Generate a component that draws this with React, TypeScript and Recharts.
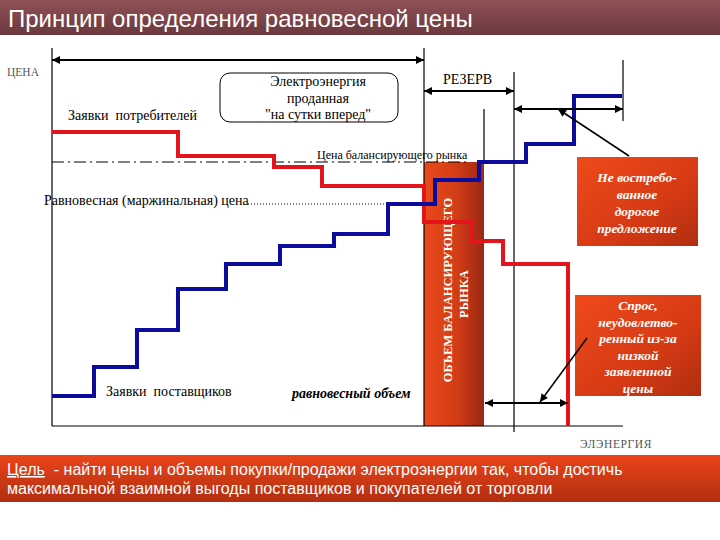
import React from "react";
import {
  ComposedChart,
  Line,
  XAxis,
  YAxis,
  ReferenceArea,
  ReferenceLine,
} from "recharts";

// volume (x) and price (y), origin at the corner of the axes
const supplyVolume = [0, 42, 85, 126, 174, 228, 282, 336, 383, 427, 474, 522, 570];
const supplyPrice = [30, 59, 96, 137, 162, 180, 192, 222, 246, 264, 282, 330, 330];
const demandVolume = [0, 126, 222, 270, 372, 420, 451, 516];
const demandPrice = [294, 270, 259, 240, 204, 185, 162, 0];

const dayAheadVolume = 372;
const balancingVolume = 432;
const reserveVolume = 462;
const maxVolume = 571;
const balancingPrice = 264;
const equilibriumPrice = 222;

const supply = supplyVolume.map((v, i) => ({ v, p: supplyPrice[i] }));
const demand = demandVolume.map((v, i) => ({ v, p: demandPrice[i] }));

const SERIF = '"Liberation Serif", "Times New Roman", serif';
const SANS = '"Liberation Sans", Arial, sans-serif';

const W = 720;
const H = 540;
const MARGIN = { top: 40, right: 0, bottom: 104, left: 52 };

const arrow =
  (start: boolean, end: boolean, w: number) =>
  (p: any) => (
    <line
      x1={p.x1}
      y1={p.y1}
      x2={p.x2}
      y2={p.y2}
      stroke="#000"
      strokeWidth={w}
      markerStart={start ? "url(#ah)" : undefined}
      markerEnd={end ? "url(#ah)" : undefined}
    />
  );

const roundedBox = (p: any) => (
  <rect
    x={p.x}
    y={p.y}
    width={p.width}
    height={p.height}
    rx={10}
    fill="#fff"
    stroke="#000"
    strokeWidth={1}
  />
);

const thin = { stroke: "#000", strokeWidth: 1.2, ifOverflow: "visible" as const };
const layer = { position: "absolute" as const, left: 0, top: 0 };

function Axes() {
  return (
    <>
      <XAxis type="number" dataKey="v" domain={[0, 668]} hide allowDataOverflow />
      <YAxis type="number" domain={[-10, 386]} hide allowDataOverflow />
    </>
  );
}

export default function App() {
  return (
    <div
      style={{
        position: "absolute",
        left: 0,
        top: 0,
        width: W,
        height: H,
        background: "#fff",
        overflow: "hidden",
      }}
    >
      <svg width={0} height={0} style={{ position: "absolute" }}>
        <defs>
          <marker
            id="ah"
            viewBox="0 0 10 10"
            refX={10}
            refY={5}
            markerWidth={9}
            markerHeight={8}
            markerUnits="userSpaceOnUse"
            orient="auto-start-reverse"
          >
            <path d="M0,0 L10,5 L0,10 z" fill="#000" />
          </marker>
          <linearGradient id="balGrad" x1="0" y1="0" x2="1" y2="0">
            <stop offset="0%" stopColor="#ea4a1c" />
            <stop offset="55%" stopColor="#d23c16" />
            <stop offset="100%" stopColor="#9a2814" />
          </linearGradient>
          <linearGradient id="noteGrad" x1="0" y1="0" x2="1" y2="1">
            <stop offset="0%" stopColor="#ef4a1c" />
            <stop offset="60%" stopColor="#d63a14" />
            <stop offset="100%" stopColor="#b02e10" />
          </linearGradient>
        </defs>
      </svg>

      {/* background layer: boxes under the curves */}
      <div style={layer}>
        <ComposedChart width={W} height={H} margin={MARGIN}>
          {Axes()}
          <ReferenceArea
            x1={dayAheadVolume}
            x2={balancingVolume}
            y1={0}
            y2={balancingPrice}
            fill="url(#balGrad)"
            fillOpacity={1}
            ifOverflow="visible"
          />
          <ReferenceArea x1={525} x2={646} y1={180} y2={269} fill="url(#noteGrad)" fillOpacity={1} ifOverflow="visible" />
          <ReferenceArea x1={523} x2={649} y1={30} y2={131} fill="url(#noteGrad)" fillOpacity={1} ifOverflow="visible" />
          <ReferenceArea x1={168} x2={346} y1={304} y2={353} shape={roundedBox} ifOverflow="visible" />
        </ComposedChart>
      </div>

      <svg width={W} height={H} style={{ ...layer, pointerEvents: "none" }}>
        <g fontFamily={SERIF} fill="#fff" fontWeight="bold" fontSize={12.5} textAnchor="middle">
          <text x={452} y={290} transform="rotate(-90 452 290)">ОБЪЕМ БАЛАНСИРУЮЩЕГО</text>
          <text x={468} y={294} transform="rotate(-90 468 294)">РЫНКА</text>
        </g>
      </svg>

      <div style={layer}>
        <ComposedChart width={W} height={H} margin={MARGIN}>
          {Axes()}
          {/* axes and guide lines */}
          <ReferenceLine segment={[{ x: 0, y: 0 }, { x: 0, y: 378 }]} {...thin} />
          <ReferenceLine segment={[{ x: 0, y: 0 }, { x: maxVolume, y: 0 }]} {...thin} />
          <ReferenceLine segment={[{ x: dayAheadVolume, y: 0 }, { x: dayAheadVolume, y: 378 }]} {...thin} />
          <ReferenceLine segment={[{ x: balancingVolume, y: balancingPrice }, { x: balancingVolume, y: 317 }]} {...thin} />
          <ReferenceLine segment={[{ x: reserveVolume, y: -6 }, { x: reserveVolume, y: 354 }]} {...thin} />
          <ReferenceLine segment={[{ x: maxVolume, y: 305 }, { x: maxVolume, y: 366 }]} {...thin} />
          <ReferenceLine
            segment={[{ x: 0, y: balancingPrice }, { x: 418, y: balancingPrice }]}
            stroke="#000"
            strokeWidth={1}
            strokeDasharray="12 4 2 4"
            ifOverflow="visible"
          />
          <ReferenceLine
            segment={[{ x: 196, y: equilibriumPrice }, { x: dayAheadVolume, y: equilibriumPrice }]}
            stroke="#000"
            strokeWidth={1}
            strokeDasharray="1 2"
            ifOverflow="visible"
          />

          <Line
            data={demand}
            dataKey="p"
            type="stepAfter"
            stroke="#e3141c"
            strokeWidth={4}
            dot={false}
            isAnimationActive={false}
          />
          <Line
            data={supply}
            dataKey="p"
            type="stepAfter"
            stroke="#0c0c9c"
            strokeWidth={4}
            dot={false}
            isAnimationActive={false}
          />

          {/* dimension arrows */}
          <ReferenceLine segment={[{ x: 0, y: 366 }, { x: dayAheadVolume, y: 366 }]} shape={arrow(true, true, 2.2)} ifOverflow="visible" />
          <ReferenceLine segment={[{ x: dayAheadVolume, y: 335 }, { x: reserveVolume, y: 335 }]} shape={arrow(true, true, 2.2)} ifOverflow="visible" />
          <ReferenceLine segment={[{ x: reserveVolume, y: 317 }, { x: maxVolume, y: 317 }]} shape={arrow(true, true, 2.2)} ifOverflow="visible" />
          <ReferenceLine segment={[{ x: balancingVolume + 1, y: 23 }, { x: 516, y: 23 }]} shape={arrow(true, true, 2.2)} ifOverflow="visible" />
          <ReferenceLine segment={[{ x: 577, y: 270 }, { x: 506, y: 317 }]} shape={arrow(false, true, 1.5)} ifOverflow="visible" />
          <ReferenceLine segment={[{ x: 535, y: 88 }, { x: 488, y: 24 }]} shape={arrow(false, true, 1.5)} ifOverflow="visible" />
        </ComposedChart>
      </div>

      <svg width={W} height={H} style={{ ...layer, pointerEvents: "none" }}>
        <defs>
          <linearGradient id="titleGrad" x1="0" y1="0" x2="0" y2="1">
            <stop offset="0%" stopColor="#8f5156" />
            <stop offset="100%" stopColor="#6b393e" />
          </linearGradient>
          <linearGradient id="bannerGrad" x1="0" y1="0" x2="0" y2="1">
            <stop offset="0%" stopColor="#ea441a" />
            <stop offset="100%" stopColor="#b22e10" />
          </linearGradient>
        </defs>
        <rect x={0} y={0} width={W} height={35} fill="url(#titleGrad)" />
        <text x={8} y={27} fill="#fff" fontFamily={SANS} fontSize={24}>
          Принцип определения равновесной цены
        </text>

        <rect x={0} y={455} width={W} height={47} fill="url(#bannerGrad)" />
        <text x={7} y={475} fill="#fff" fontFamily={SANS} fontSize={16} xmlSpace="preserve">
          <tspan textDecoration="underline">Цель</tspan>
          {"  - найти цены и объемы покупки/продажи электроэнергии так, чтобы достичь"}
        </text>
        <text x={7} y={494} fill="#fff" fontFamily={SANS} fontSize={16}>
          максимальной взаимной выгоды поставщиков и покупателей от торговли
        </text>

        <g fontFamily={SERIF} fill="#000">
          <text x={7} y={76} fontSize={11.5} fill="#555">ЦЕНА</text>
          <text x={68} y={120} fontSize={14} xmlSpace="preserve">Заявки  потребителей</text>
          <text x={318} y={86} fontSize={14} textAnchor="middle">Электроэнергия</text>
          <text x={318} y={103} fontSize={14} textAnchor="middle">проданная</text>
          <text x={318} y={119} fontSize={14} textAnchor="middle">"на сутки вперед"</text>
          <text x={443} y={84} fontSize={14}>РЕЗЕРВ</text>
          <text x={317} y={159} fontSize={12}>Цена балансирующего рынка</text>
          <text x={44} y={205} fontSize={14}>Равновесная (маржинальная) цена</text>
          <text x={106} y={396} fontSize={14} xmlSpace="preserve">Заявки  поставщиков</text>
          <text x={292} y={398} fontSize={14} fontWeight="bold" fontStyle="italic">
            равновесный объем
          </text>
          <text x={580} y={448} fontSize={11.5} fill="#555" letterSpacing={0.6}>ЭЛЭНЕРГИЯ</text>
        </g>

        <g fontFamily={SERIF} fill="#fff" fontWeight="bold" fontStyle="italic" fontSize={13.5} textAnchor="middle">
          <text x={637} y={182}>Не востребо-</text>
          <text x={637} y={199}>ванное</text>
          <text x={637} y={216}>дорогое</text>
          <text x={637} y={233}>предложение</text>

          <text x={638} y={310}>Спрос,</text>
          <text x={638} y={327}>неудовлетво-</text>
          <text x={638} y={343}>ренный из-за</text>
          <text x={638} y={360}>низкой</text>
          <text x={638} y={376}>заявленной</text>
          <text x={638} y={393}>цены</text>
        </g>
      </svg>
    </div>
  );
}
